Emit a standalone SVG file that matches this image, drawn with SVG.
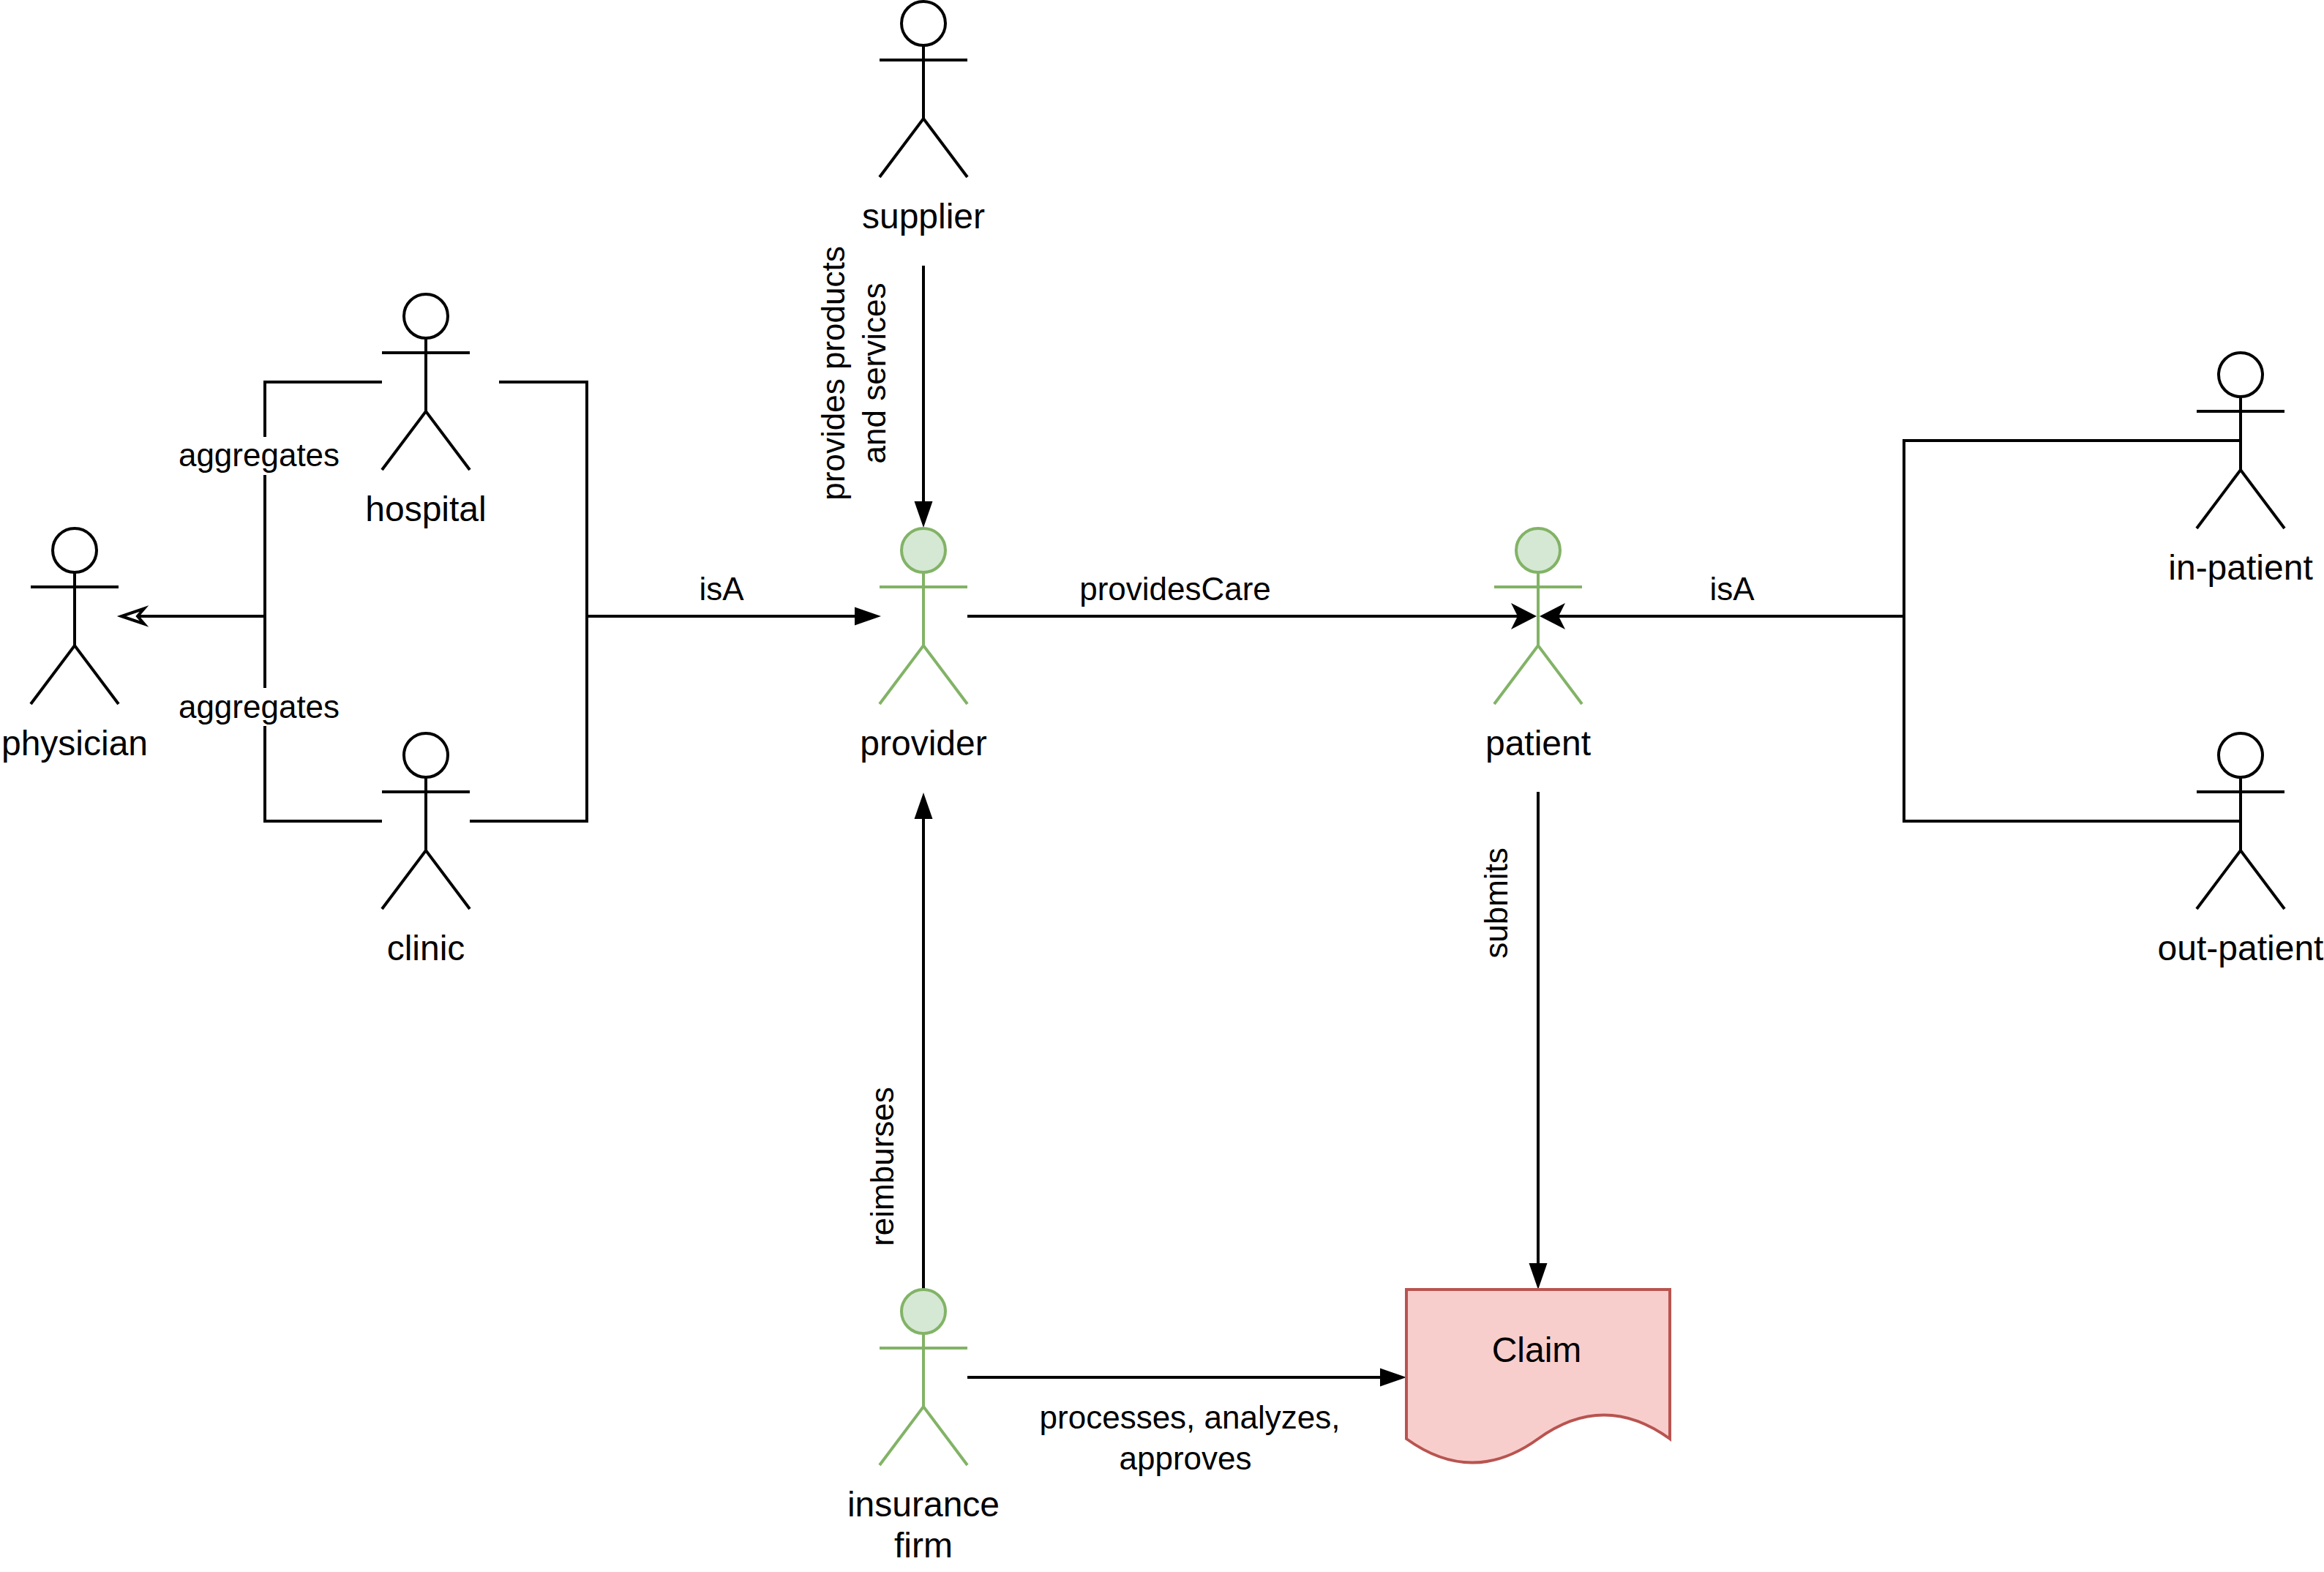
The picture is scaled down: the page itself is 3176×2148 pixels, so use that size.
<svg xmlns="http://www.w3.org/2000/svg" xmlns:xlink="http://www.w3.org/1999/xlink" width="3176" height="2148" viewBox="0 0 3176 2148">
<style>
text{font-family:"Liberation Sans",Arial,sans-serif;fill:#000;text-anchor:middle}
.n{font-size:48px}
.e{font-size:44px}
.plain{fill:#fff;stroke:#000;stroke-width:4}
.green{fill:#d5e8d4;stroke:#82b366;stroke-width:4}
.body{fill:none}
.c{fill:none;stroke:#000;stroke-width:4}
.doc{fill:#f8cecc;stroke:#b85450;stroke-width:4;stroke-miterlimit:10}
.end{marker-end:url(#block)}
.notch{marker-end:url(#classic)}
.open{marker-end:url(#hollow)}
</style>
<defs>
<marker id="block" markerUnits="userSpaceOnUse" markerWidth="40" markerHeight="28" viewBox="-36 -14 40 28" refX="-6" refY="0" orient="auto"><path d="M0 0L-36 -12.500L-36 12.500Z" fill="#000"/></marker>
<marker id="classic" markerUnits="userSpaceOnUse" markerWidth="44" markerHeight="40" viewBox="-38 -20 44 40" refX="-8" refY="0" orient="auto"><path d="M0 0L-35 -18L-26 0L-35 18Z" fill="#000"/></marker>
<marker id="hollow" markerUnits="userSpaceOnUse" markerWidth="50" markerHeight="36" viewBox="-16 -18 50 36" refX="0" refY="0" orient="auto"><path d="M22 0L-9 -10.500L0 0L-9 10.500Z" fill="#fff" stroke="#000" stroke-width="4"/></marker>
<g id="actor"><ellipse cx="60" cy="30" rx="30" ry="30"/><path class="body" d="M60 60V160M0 80H120M0 240L60 160L120 240"/></g>
</defs>

<g id="connectors">
<path class="c" d="M522 522H362V1122H522"/>
<path class="c open" d="M362 842H188"/>
<path class="c" d="M682 522H802V1122H642"/>
<path class="c end" d="M802 842H1198"/>
<path class="c end" d="M1262 363V715"/>
<path class="c notch" d="M1322 842H2092"/>
<path class="c" d="M3062 602H2602V1122H3062"/>
<path class="c notch" d="M2602 842H2112"/>
<path class="c end" d="M2102 1082V1756"/>
<path class="c end" d="M1262 1762V1089"/>
<path class="c end" d="M1322 1882H1916"/>
<g id="connector-labels">
<rect x="245" y="597" width="218" height="52" fill="#fff"/>
<text class="e" x="354" y="637">aggregates</text>
<rect x="245" y="940" width="218" height="52" fill="#fff"/>
<text class="e" x="354" y="981">aggregates</text>
<text class="e" x="986" y="820">isA</text>
<text class="e" x="1606" y="820">providesCare</text>
<text class="e" x="2367" y="820">isA</text>
<text class="e" transform="translate(1154 510) rotate(-90)">provides products</text>
<text class="e" transform="translate(1210 510) rotate(-90)">and services</text>
<text class="e" transform="translate(1221 1594) rotate(-90)">reimburses</text>
<text class="e" transform="translate(2060 1234) rotate(-90)">submits</text>
<text class="e" x="1626" y="1952">processes, analyzes,</text>
<text class="e" x="1620" y="2008">approves</text>
</g>
</g>

<g id="physician"><use xlink:href="#actor" class="plain" x="42" y="722"/><text class="n" x="102" y="1032">physician</text></g>
<g id="hospital"><use xlink:href="#actor" class="plain" x="522" y="402"/><text class="n" x="582" y="712">hospital</text></g>
<g id="clinic"><use xlink:href="#actor" class="plain" x="522" y="1002"/><text class="n" x="582" y="1312">clinic</text></g>
<g id="supplier"><use xlink:href="#actor" class="plain" x="1202" y="2"/><text class="n" x="1262" y="312">supplier</text></g>
<g id="provider"><use xlink:href="#actor" class="green" x="1202" y="722"/><text class="n" x="1262" y="1032">provider</text></g>
<g id="patient"><use xlink:href="#actor" class="green" x="2042" y="722"/><text class="n" x="2102" y="1032">patient</text></g>
<g id="in-patient"><use xlink:href="#actor" class="plain" x="3002" y="482"/><text class="n" x="3062" y="792">in-patient</text></g>
<g id="out-patient"><use xlink:href="#actor" class="plain" x="3002" y="1002"/><text class="n" x="3062" y="1312">out-patient</text></g>
<g id="insurance-firm"><use xlink:href="#actor" class="green" x="1202" y="1762"/><text class="n" x="1262" y="2072">insurance</text><text class="n" x="1262" y="2128">firm</text></g>
<g id="claim"><path class="doc" d="M1922 1762H2282V1966Q2192 1901 2102 1966Q2012 2031 1922 1966Z"/><text class="n" x="2100" y="1861">Claim</text></g>
</svg>
